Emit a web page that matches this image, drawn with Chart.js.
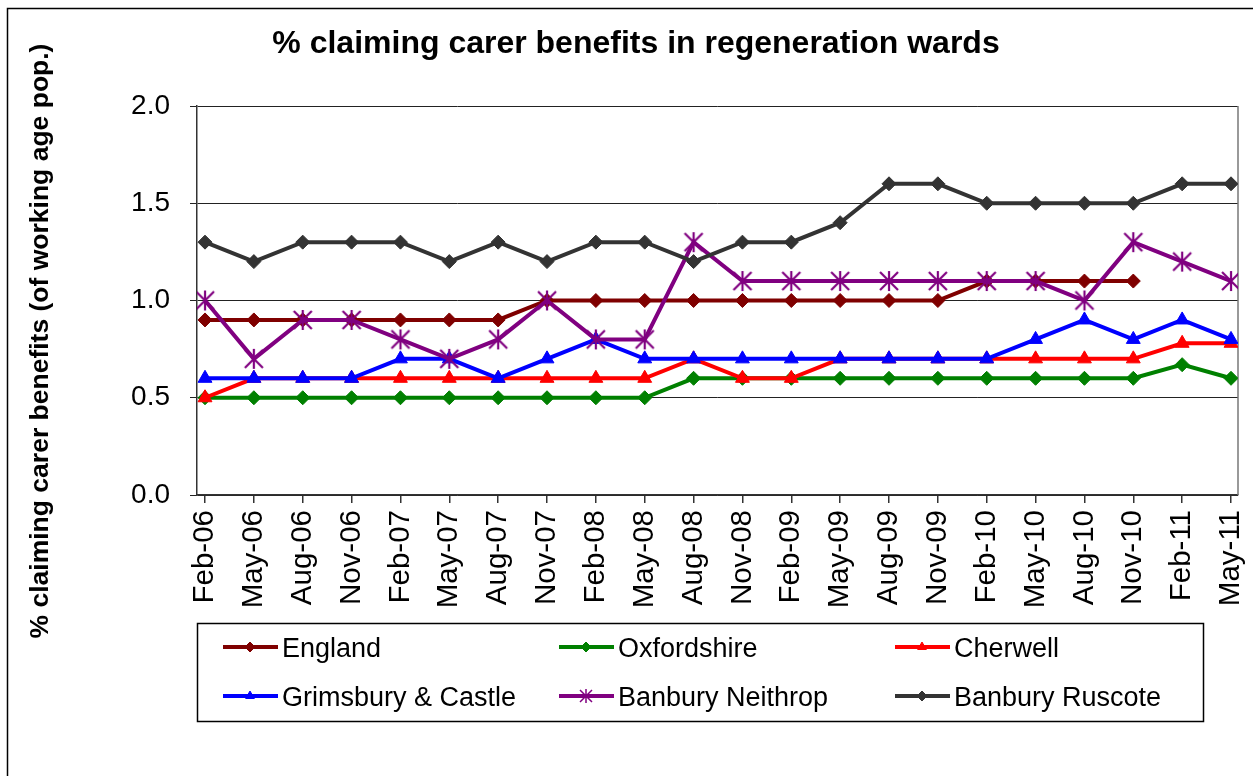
<!DOCTYPE html>
<html><head><meta charset="utf-8">
<script src="https://cdn.jsdelivr.net/npm/chart.js@4/dist/chart.umd.min.js"></script>
<style>html,body{margin:0;padding:0;background:#fff;overflow:hidden}#wrap{width:1253px;height:776px;position:relative}</style>
</head><body><div id="wrap"><canvas id="c" width="1253" height="776"></canvas></div>
<script>
const categories = ['Feb-06','May-06','Aug-06','Nov-06','Feb-07','May-07','Aug-07','Nov-07','Feb-08','May-08','Aug-08','Nov-08','Feb-09','May-09','Aug-09','Nov-09','Feb-10','May-10','Aug-10','Nov-10','Feb-11','May-11'];
const england     = [0.9,0.9,0.9,0.9,0.9,0.9,0.9,1.0,1.0,1.0,1.0,1.0,1.0,1.0,1.0,1.0,1.1,1.1,1.1,1.1,null,null];
const oxfordshire = [0.5,0.5,0.5,0.5,0.5,0.5,0.5,0.5,0.5,0.5,0.6,0.6,0.6,0.6,0.6,0.6,0.6,0.6,0.6,0.6,0.67,0.6];
const cherwell    = [0.5,0.6,0.6,0.6,0.6,0.6,0.6,0.6,0.6,0.6,0.7,0.6,0.6,0.7,0.7,0.7,0.7,0.7,0.7,0.7,0.78,0.78];
const grimsbury   = [0.6,0.6,0.6,0.6,0.7,0.7,0.6,0.7,0.8,0.7,0.7,0.7,0.7,0.7,0.7,0.7,0.7,0.8,0.9,0.8,0.9,0.8];
const neithrop    = [1.0,0.7,0.9,0.9,0.8,0.7,0.8,1.0,0.8,0.8,1.3,1.1,1.1,1.1,1.1,1.1,1.1,1.1,1.0,1.3,1.2,1.1];
const ruscote     = [1.3,1.2,1.3,1.3,1.3,1.2,1.3,1.2,1.3,1.3,1.2,1.3,1.3,1.4,1.6,1.6,1.5,1.5,1.5,1.5,1.6,1.6];
const yTicks = [0, 0.5, 1.0, 1.5, 2.0];
const seriesNames = ['England','Oxfordshire','Cherwell','Grimsbury & Castle','Banbury Neithrop','Banbury Ruscote'];
const titleText = '% claiming carer benefits in regeneration wards';
const yTitleText = '% claiming carer benefits (of working age pop.)';

const FONT = '"Liberation Sans", Arial, Helvetica, sans-serif';

function makeStar(color, size, lw){
  const c = document.createElement('canvas'); c.width = size; c.height = size;
  const g = c.getContext('2d'); g.strokeStyle = color; g.lineWidth = lw; g.lineCap = 'butt';
  const m = size/2, a = size/2 - 2;
  g.beginPath();
  g.moveTo(m, m - a - 1); g.lineTo(m, m + a + 1);
  g.moveTo(m - a, m - a); g.lineTo(m + a, m + a);
  g.moveTo(m + a, m - a); g.lineTo(m - a, m + a);
  g.stroke();
  return c;
}
const starBig = makeStar('#800080', 22, 2.2);
const starSmall = makeStar('#800080', 16, 1.5);

const colors = ['#7f0000','#008000','#ff0000','#0000ff','#800080','#333333'];
const styles = ['rectRot','rectRot','triangle','triangle',starBig,'rectRot'];
const legendStyles = ['rectRot','rectRot','triangle','triangle',starSmall,'rectRot'];
const radii = [7,7,8,8,10,7];
const values = [england, oxfordshire, cherwell, grimsbury, neithrop, ruscote];

const datasets = values.map((arr, k) => ({
  label: seriesNames[k],
  data: arr.map((v, i) => ({x: i, y: v})),
  borderColor: colors[k],
  backgroundColor: colors[k],
  borderWidth: 4,
  pointStyle: styles[k],
  pointRadius: radii[k],
  pointBorderWidth: 1,
  pointBackgroundColor: colors[k],
  pointBorderColor: colors[k],
  tension: 0,
  spanGaps: false,
  order: 6 - k
}));

const decor = {
  id: 'decor',
  beforeDraw(chart){
    const ctx = chart.ctx; ctx.save();
    ctx.fillStyle = '#fff'; ctx.fillRect(0,0,chart.width,chart.height);
    ctx.strokeStyle = '#000'; ctx.lineWidth = 1.5;
    ctx.beginPath(); ctx.moveTo(7.5, 776); ctx.lineTo(7.5, 8.5); ctx.lineTo(1253, 8.5); ctx.stroke();
    ctx.restore();
  },
  beforeDatasetsDraw(chart){
    const ctx = chart.ctx, a = chart.chartArea; ctx.save();
    ctx.strokeStyle = '#777'; ctx.lineWidth = 1.5;
    ctx.beginPath(); ctx.moveTo(a.right, a.top); ctx.lineTo(a.right, a.bottom); ctx.stroke();
    ctx.restore();
  },
  afterDraw(chart){
    const ctx = chart.ctx; ctx.save();
    ctx.fillStyle = '#000';
    // title
    ctx.font = 'bold 32px ' + FONT; ctx.textAlign = 'center'; ctx.textBaseline = 'alphabetic';
    ctx.fillText(titleText, 636, 53);
    // y title
    ctx.save(); ctx.translate(48, 341); ctx.rotate(-Math.PI/2);
    ctx.font = 'bold 26.5px ' + FONT; ctx.textAlign = 'center'; ctx.textBaseline = 'alphabetic';
    ctx.fillText(yTitleText, 0, 0); ctx.restore();
    // legend box
    ctx.strokeStyle = '#000'; ctx.lineWidth = 1.5;
    ctx.strokeRect(197.5, 623.5, 1006, 98);
    const colX = [223, 559, 895], rowY = [647, 696];
    chart.data.datasets.forEach((ds, k) => {
      const cx = colX[k % 3], cy = rowY[Math.floor(k / 3)];
      ctx.strokeStyle = ds.borderColor; ctx.fillStyle = ds.borderColor; ctx.lineWidth = 4;
      ctx.beginPath(); ctx.moveTo(cx, cy); ctx.lineTo(cx + 55, cy); ctx.stroke();
      ctx.lineWidth = 1;
      Chart.helpers.drawPoint(ctx, {pointStyle: legendStyles[k], radius: k === 4 ? 8 : 5, rotation: 0, borderWidth: 1}, cx + 27, cy);
      ctx.fillStyle = '#000'; ctx.font = '27px ' + FONT; ctx.textAlign = 'left'; ctx.textBaseline = 'alphabetic';
      ctx.fillText(ds.label, cx + 59, cy + 10);
    });
    ctx.restore();
  }
};

new Chart(document.getElementById('c'), {
  type: 'line',
  data: { datasets },
  options: {
    responsive: false, animation: false,
    layout: { padding: { left: 0, right: 15, top: 106, bottom: 0 } },
    plugins: { legend: { display: false }, title: { display: false }, tooltip: { enabled: false } },
    scales: {
      x: {
        type: 'linear', min: -0.164, max: 21.143,
        afterBuildTicks: s => { s.ticks = categories.map((c, i) => ({ value: i })); },
        afterFit: s => { s.height = 281; s.paddingLeft = 0; s.paddingRight = 0; },
        ticks: { autoSkip: false, minRotation: 90, maxRotation: 90, includeBounds: false, padding: 7,
          color: '#000', font: { family: FONT, size: 29.5 },
          callback: v => categories[v] },
        grid: { drawOnChartArea: false, drawTicks: true, tickLength: 8, color: '#333', lineWidth: 1.5 },
        border: { display: true, color: '#333', width: 1.5 }
      },
      y: {
        min: 0, max: 2,
        afterBuildTicks: s => { s.ticks = yTicks.map(v => ({ value: v })); },
        afterFit: s => { s.width = 197; },
        ticks: { padding: 20, color: '#000', font: { family: FONT, size: 28 }, callback: v => Number(v).toFixed(1) },
        grid: { color: '#222', lineWidth: 1, drawTicks: true, tickLength: 7 },
        border: { display: true, color: '#333', width: 1.5 }
      }
    }
  },
  plugins: [decor]
});
</script></body></html>
